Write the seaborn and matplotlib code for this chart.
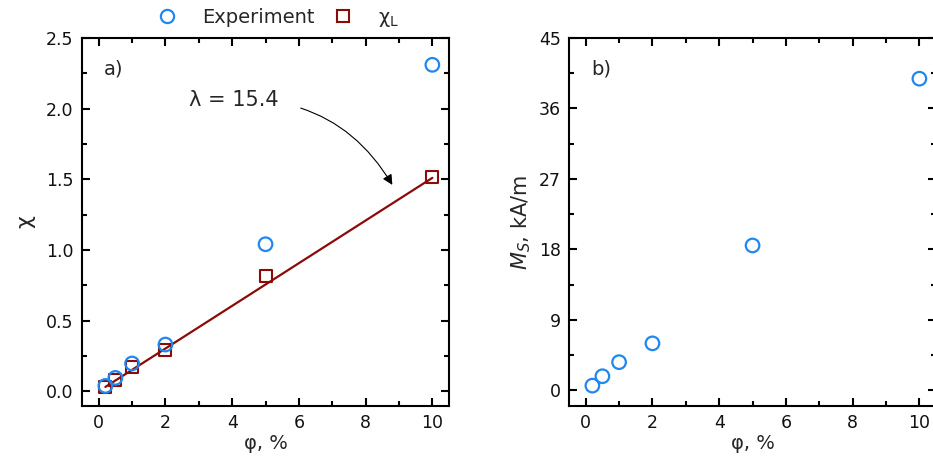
import numpy as np
import pandas as pd
import matplotlib
matplotlib.use("Agg")
import matplotlib.pyplot as plt
from matplotlib.lines import Line2D
from matplotlib.ticker import MultipleLocator
import seaborn as sns

# data
phi = [0.2, 0.5, 1, 2, 5, 10]
chi_exp = [0.037, 0.094, 0.196, 0.33, 1.04, 2.31]
chi_L = [0.03, 0.08, 0.17, 0.29, 0.816, 1.518]
Ms_exp = [0.6, 1.8, 3.6, 6.0, 18.5, 39.8]
# straight line drawn through the chi_L points
fit_phi = [0.2, 10]
fit_chi = [0.03, 1.51]

blue = '#1E88F0'
red = '#8B0A0A'

sns.set_theme(style="ticks")
plt.rcParams['font.family'] = ['DejaVu Sans']
plt.rcParams['mathtext.fontset'] = 'dejavusans'
plt.rcParams['axes.linewidth'] = 1.5

df = pd.DataFrame({'phi': phi, 'chi': chi_exp, 'chiL': chi_L, 'Ms': Ms_exp})
fit = pd.DataFrame({'phi': fit_phi, 'chi': fit_chi})

fig = plt.figure(figsize=(9.33, 4.63), dpi=100)
ax1 = fig.add_axes([0.0879, 0.1231, 0.3934, 0.7949])
ax2 = fig.add_axes([0.6099, 0.1231, 0.3934, 0.7949])


def style(ax, ymajor, yminor):
    ax.xaxis.set_major_locator(MultipleLocator(2))
    ax.xaxis.set_minor_locator(MultipleLocator(1))
    ax.yaxis.set_major_locator(MultipleLocator(ymajor))
    ax.yaxis.set_minor_locator(MultipleLocator(yminor))
    ax.tick_params(which='both', direction='in', top=True, right=True,
                   labelsize=12.5, color='black', labelcolor='#111111')
    ax.tick_params(which='major', length=6, width=1.5, pad=6)
    ax.tick_params(which='minor', length=3.5, width=1.5)
    for s in ax.spines.values():
        s.set_color('black')
        s.set_linewidth(1.5)
    ax.set_xlim(-0.5, 10.5)
    ax.set_xlabel('φ, %', fontsize=14, labelpad=1)


# panel a
sns.lineplot(data=fit, x='phi', y='chi', ax=ax1, color=red, lw=1.6, zorder=1)
sns.scatterplot(data=df, x='phi', y='chiL', ax=ax1, marker='s', s=75,
                facecolors='none', edgecolor=red, linewidth=1.5, zorder=2)
sns.scatterplot(data=df, x='phi', y='chi', ax=ax1, marker='o', s=95,
                facecolors='none', edgecolor=blue, linewidth=1.6, zorder=3)
style(ax1, 0.5, 0.25)
ax1.set_ylim(-0.105, 2.5)
ax1.set_ylabel('χ', fontsize=16, labelpad=8)
ax1.text(0.06, 0.915, 'a)', transform=ax1.transAxes, fontsize=14, va='center')
ax1.annotate('λ = 15.4', xy=(8.8, 1.46), xytext=(4.05, 2.06),
             fontsize=15, ha='center', va='center',
             arrowprops=dict(arrowstyle='-|>', color='black', lw=0.8,
                             connectionstyle='arc3,rad=-0.3',
                             shrinkA=14, shrinkB=0))

# panel b
sns.scatterplot(data=df, x='phi', y='Ms', ax=ax2, marker='o', s=95,
                facecolors='none', edgecolor=blue, linewidth=1.6, zorder=3)
style(ax2, 9, 4.5)
ax2.set_ylim(-2.0, 45)
ax2.set_ylabel('$\\mathit{M_S}$, kA/m', fontsize=15, labelpad=4)
ax2.text(0.06, 0.915, 'b)', transform=ax2.transAxes, fontsize=14, va='center')

handles = [
    Line2D([], [], ls='none', marker='o', ms=9.5, mfc='none', mec=blue, mew=1.6),
    Line2D([], [], ls='none', marker='s', ms=8, mfc='none', mec=red, mew=1.5),
]
fig.legend(handles, ['Experiment', 'χ$_{\\rm L}$'], loc='upper center',
           bbox_to_anchor=(0.293, 1.02), ncol=2, frameon=False, fontsize=14,
           columnspacing=0.5, handletextpad=0.8)

fig.savefig('out.png', dpi=100)
